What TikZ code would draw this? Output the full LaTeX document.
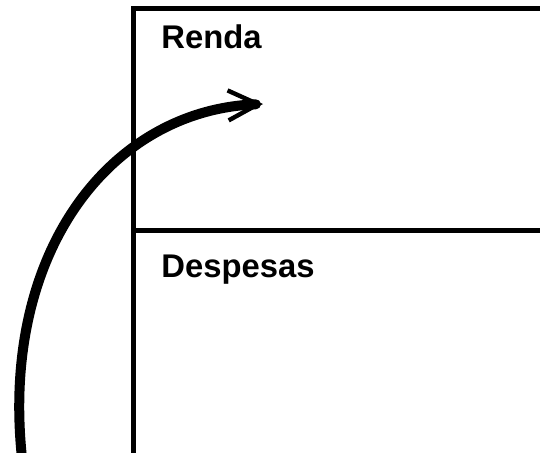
\documentclass[tikz,border=0pt]{standalone}
\usepackage{fontspec}
\setmainfont{Liberation Sans}
\usetikzlibrary{positioning}
\usetikzlibrary{arrows.meta}
\tikzstyle{boxline}=[line width=2.5pt, line cap=rect]
\tikzstyle{title}=[font=\fontsize{16.4}{18}\selectfont\bfseries, inner sep=0pt, anchor=base west]
\tikzstyle{flow}=[line width=5pt, line cap=round, -{Straight Barb[length=15pt,width=15pt,line width=2.2pt]}]

\begin{document}
\begin{tikzpicture}[x=0.5pt, y=-0.5pt]

   \useasboundingbox (0,0) rectangle (540,452);
   \clip (0,0) rectangle (540,452);

   % the two panels
   \draw[boxline] (540,8) -- (133,8) -- (133,460);
   \draw[boxline] (133,230) -- (545,230);

   \node[title] (renda) at (161,48) {Renda};
   \node[title] (despesas) at (161,277) {Despesas};

   \coordinate (start) at (22,458);
   \coordinate (tip) at (263,104);

   \draw[flow] (start) .. controls (0,250) and (112,110) .. (tip);

\end{tikzpicture}
\end{document}
